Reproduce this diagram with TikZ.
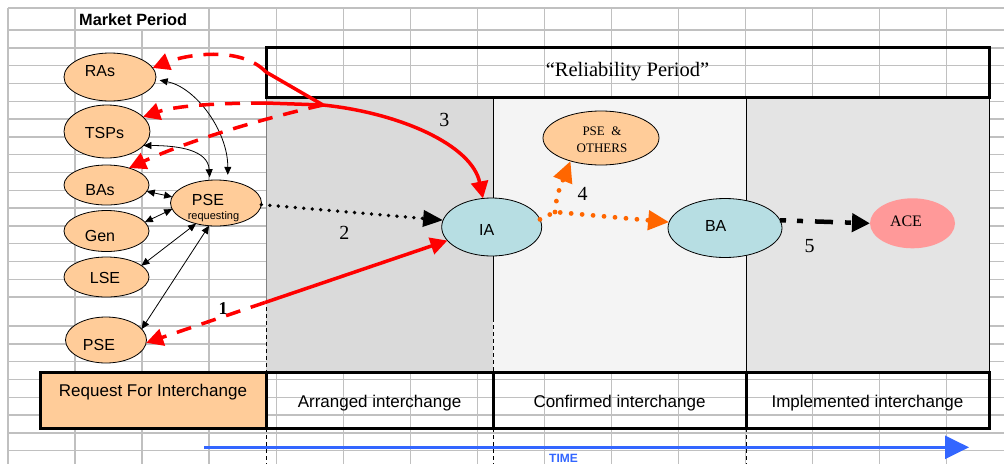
\documentclass[tikz,border=0pt]{standalone}
\usepackage{fontspec}
\setmainfont{Liberation Sans}
\newfontfamily\serf{Liberation Serif}
\usetikzlibrary{arrows.meta,shapes.geometric,calc}
\definecolor{peach}{HTML}{FFCC99}
\definecolor{iablue}{HTML}{B7DEE3}
\definecolor{acepink}{HTML}{FF9999}
\definecolor{gridgray}{HTML}{C0C0C0}
\definecolor{arrgray}{HTML}{DADADA}
\definecolor{confgray}{HTML}{F4F4F4}
\definecolor{implgray}{HTML}{E4E4E4}
\definecolor{redarr}{HTML}{FF0000}
\definecolor{orangearr}{HTML}{FF6600}
\definecolor{bluearr}{HTML}{3366FF}
\begin{document}
\begin{tikzpicture}[x=1pt,y=-1pt,
  gridline/.style={draw=gridgray,line width=1.4pt},
  ell/.style={ellipse,draw=black,line width=0.8pt,fill=peach,inner sep=0pt,outer sep=0pt},
  sanslbl/.style={font=\fontsize{16}{19}\selectfont,anchor=base,inner sep=0pt},
  boxlbl/.style={font=\fontsize{17}{20}\selectfont,anchor=base,inner sep=0pt},
  numlbl/.style={font=\serf\fontsize{20}{24}\selectfont,anchor=base,inner sep=0pt},
  stagebox/.style={draw=black,line width=3pt,inner sep=0pt,outer sep=0pt,minimum height=56pt},
  thinarr/.style={draw=black,line width=0.8pt,{Triangle[length=8pt,width=7pt]}-{Triangle[length=8pt,width=7pt]}},
  redline/.style={draw=redarr,line width=3.5pt},
  reddash/.style={draw=redarr,line width=3.5pt,dash pattern=on 15pt off 11pt},
  redend/.style={-{Triangle[length=17pt,width=17pt]}},
  blackdots/.style={draw=black,line width=3.8pt,dash pattern=on 0pt off 8.5pt,line cap=round,-{Triangle[length=20pt,width=16pt]}},
  orangedots/.style={draw=orangearr,line width=4.8pt,dash pattern=on 0pt off 11pt,line cap=round},
  orangeend/.style={-{Triangle[length=21pt,width=19pt]}},
  dashdotarr/.style={draw=black,line width=4.5pt,dash pattern=on 6pt off 11pt on 6pt off 12pt on 18pt off 12pt,-{Triangle[length=18pt,width=18pt]}},
  guide/.style={draw=black,line width=0.6pt,dash pattern=on 4pt off 3pt}
]
\useasboundingbox (0,0) rectangle (1004,464);
\fill[white] (0,0) rectangle (1004,464);

% spreadsheet grid
\foreach \yy in {8,30,47.8,65.6,83.4,101.2,119,136.8,154.6,172.4,190.2,208,225.8,243.6,261.4,279.2,297,326,343.8,361.6,379.4,397.2,415,432.8,450.6}
  \draw[gridline] (8,\yy) -- (1004,\yy);
\foreach \xx in {8,75.05,209.15,276.2,343.25,410.3,477.35,544.4,611.45,678.5,745.55,812.6,879.65,946.7}
  \draw[gridline] (\xx,8) -- (\xx,464);
\draw[gridline] (142.1,30) -- (142.1,464);

% shaded period areas
\fill[arrgray] (266,98) rectangle (493,372);
\fill[confgray] (493,98) rectangle (746,372);
\fill[implgray] (746,98) rectangle (989,372);
\draw[gray,line width=0.7pt] (266,98) -- (266,300);
\draw[black,line width=0.7pt] (493,98) -- (493,318);
\draw[black,line width=0.7pt] (746,98) -- (746,372);
\draw[black,line width=0.7pt] (989,98) -- (989,372);
\draw[guide] (266,300) -- (266,372);
\draw[guide] (493,318) -- (493,372);
\draw[guide] (266,428) -- (266,464);
\draw[guide] (493,428) -- (493,464);
\draw[guide] (746,428) -- (746,464);

% title texts and boxes
\node[anchor=base west,inner sep=0pt,font=\bfseries\fontsize{16.3}{19}\selectfont] (mkt) at (79,25) {Market Period};
\node[stagebox,minimum width=723pt,minimum height=50pt] (rel) at (627.5,72.5) {};
\node[anchor=base,inner sep=0pt,font=\serf\fontsize{20.5}{24}\selectfont] (reltxt) at (627.5,76.7) {“Reliability Period”};

\node[stagebox,fill=peach,minimum width=226pt] (req) at (153,400) {};
\node[stagebox,minimum width=227pt] (arr) at (379.5,400) {};
\node[stagebox,minimum width=253pt] (conf) at (619.5,400) {};
\node[stagebox,minimum width=243pt] (impl) at (867.5,400) {};
\node[boxlbl] (reqtxt) at (153,396) {Request For Interchange};
\node[boxlbl] (arrtxt) at (379.5,407) {Arranged interchange};
\node[boxlbl] (conftxt) at (619.5,407) {Confirmed interchange};
\node[boxlbl] (impltxt) at (867.5,407) {Implemented interchange};

% time arrow
\coordinate (tstart) at (204,447.3);
\coordinate (tend) at (969,447.3);
\draw[draw=bluearr,line width=2.7pt,-{Triangle[length=24pt,width=23pt]}] (tstart) -- (tend);
\node[anchor=base,inner sep=0pt,text=bluearr,font=\bfseries\fontsize{12}{14}\selectfont] (time) at (563.5,462.8) {TIME};

% market entities
\node[ell,minimum width=92pt,minimum height=48pt] (ras) at (110,77) {};
\node[ell,minimum width=86pt,minimum height=53pt] (tsps) at (107,131.5) {};
\node[ell,minimum width=85pt,minimum height=40pt] (bas) at (106.5,185) {};
\node[ell,minimum width=85pt,minimum height=41pt] (gen) at (106.5,231) {};
\node[ell,minimum width=85pt,minimum height=40pt] (lse) at (106.5,277) {};
\node[ell,minimum width=81pt,minimum height=46pt] (pse) at (106,340) {};
\node[ell,minimum width=91pt,minimum height=46pt] (psereq) at (216,203) {};
\node[sanslbl] (rastxt) at (100,76) {RAs};
\node[sanslbl] (tspstxt) at (104.5,138) {TSPs};
\node[sanslbl] (bastxt) at (100,195) {BAs};
\node[sanslbl] (gentxt) at (100,241.7) {Gen};
\node[sanslbl] (lsetxt) at (105,283) {LSE};
\node[sanslbl] (psetxt) at (99,350) {PSE};
\node[sanslbl] (psereqtxt) at (208,205) {PSE};
\node[anchor=base,inner sep=0pt,font=\fontsize{11}{13}\selectfont] (reqsub) at (213.5,219) {requesting};

% reliability entities
\node[ell,minimum width=116pt,minimum height=54pt] (pseo) at (601,138) {};
\node[anchor=base,inner sep=0pt,font=\serf\fontsize{13}{15}\selectfont] (pseotxt1) at (602,135.7) {PSE\ \ \&};
\node[anchor=base,inner sep=0pt,font=\serf\fontsize{13}{15}\selectfont] (pseotxt2) at (602,152.3) {OTHERS};
\node[ell,fill=iablue,minimum width=100pt,minimum height=58pt] (ia) at (491.7,227) {};
\node[sanslbl] (iatxt) at (486.7,235) {IA};
\node[ell,fill=iablue,minimum width=114pt,minimum height=59pt] (ba) at (725,228) {};
\node[sanslbl] (batxt) at (715.7,231.7) {BA};
\node[ellipse,fill=acepink,inner sep=0pt,outer sep=0pt,minimum width=85pt,minimum height=50pt] (ace) at (912.5,223.3) {};
\node[anchor=base,inner sep=0pt,font=\serf\fontsize{16}{19}\selectfont] (acetxt) at (906,226) {ACE};

% thin black links
\draw[thinarr,shorten <=4pt,shorten >=6pt] (ras.-3) .. controls +(40,8) and +(0,-50) .. (psereq.62);
\draw[thinarr,shorten >=3pt] (tsps.-21) .. controls +(36,0) and +(-2,-30) .. (psereq.105);
\draw[thinarr] (bas.-9) -- (psereq.172);
\draw[thinarr] (gen.13) -- (psereq.188);
\draw[thinarr] (lse.18) -- (psereq.226);
\draw[thinarr] (pse.17) -- (psereq.253);

% red links
\coordinate (r1) at (266,72);
\coordinate (r2) at (266,103);
\coordinate (hub) at (323,105);
\coordinate (c1) at ($(pse.-4)!0.394!(ia.197)$);
\draw[redline,redend] (r1) -- (hub) .. controls (400,113) and (472,145) .. (ia.107);
\draw[reddash,redend] (r1) .. controls (240,45) and (185,55) .. (ras.12);
\draw[redline] (r2) -- (hub);
\draw[reddash,redend] (r2) .. controls (215,103) and (175,106) .. (tsps.22);
\draw[reddash,redend] (hub) .. controls (265,118) and (190,140) .. (bas.37);
\draw[redline,redend] (c1) -- (ia.197);
\draw[reddash,redend] (c1) -- (pse.-4);

% dotted / dash-dot links
\draw[blackdots] (psereq.-2) -- (ia.172);
\coordinate (j4) at (555,212);
\draw[orangedots,orangeend] (ia.9) -- (j4) -- (ba.174);
\draw[orangedots,orangeend] (j4) .. controls (557,195) .. (pseo.217);
\draw[dashdotarr] (ba.8) -- (ace.180);

% step numbers
\node[anchor=base,inner sep=0pt,font=\serf\bfseries\fontsize{18}{22}\selectfont] (n1) at (223,314) {1};
\node[numlbl] (n2) at (344.3,239.5) {2};
\node[numlbl] (n3) at (444.3,126.7) {3};
\node[numlbl] (n4) at (582.7,200.7) {4};
\node[numlbl] (n5) at (809.7,252.3) {5};
\end{tikzpicture}
\end{document}
